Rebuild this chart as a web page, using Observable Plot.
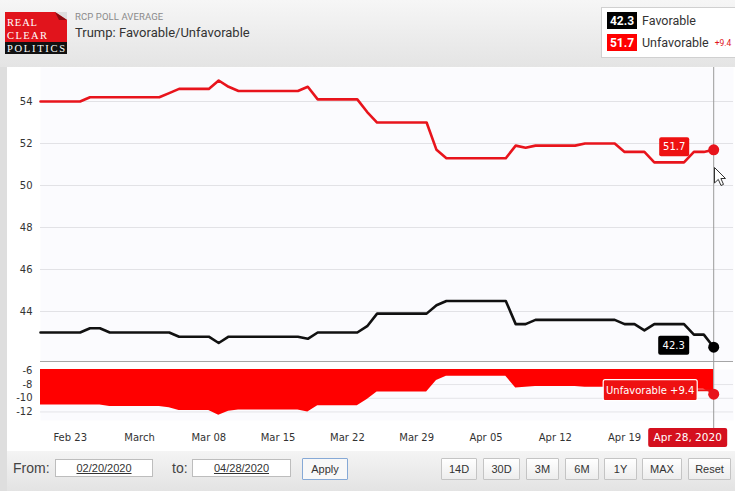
<!DOCTYPE html>
<html><head><meta charset="utf-8">
<script src="https://cdn.jsdelivr.net/npm/d3@7"></script>
<script src="https://cdn.jsdelivr.net/npm/@observablehq/plot@0.6"></script>
<style>
body{margin:0;width:735px;height:491px;overflow:hidden;background:#dedede;position:relative;font-family:Roboto,"Liberation Sans",Arial,sans-serif}
#header{position:absolute;left:0;top:0;width:735px;height:67px;background:linear-gradient(#f6f6f6,#e4e4e4)}
#sub{position:absolute;left:75px;top:11px;font-size:9.5px;color:#8a8a8a;letter-spacing:0.1px}
#title{position:absolute;left:75px;top:25px;font-size:13px;color:#333}
#legend{position:absolute;left:601px;top:7px;width:134px;height:51px;background:#fff;border:1px solid #d0d0d0;border-right:none;box-sizing:border-box}
.lrow{position:absolute;left:5px;height:17px;display:flex;align-items:center}
.lval{width:30px;height:17px;color:#fff;font-size:12px;font-weight:bold;display:flex;align-items:center;justify-content:center}
.lname{font-size:12.5px;color:#333;margin-left:5px}
#panel{position:absolute;left:7px;top:67px;width:728px;height:384px;background:#fff}
#bar{position:absolute;left:7px;top:451px;width:728px;height:40px;background:linear-gradient(#f4f4f4,#e3e3e3);font-family:"Liberation Sans",Arial,sans-serif}
.lab{position:absolute;top:9px;font-size:14px;color:#444}
.inp{position:absolute;top:8px;height:18px;background:#fff;border:1px solid #bdbdbd;box-sizing:border-box;font-size:11px;color:#333;text-decoration:underline;display:flex;align-items:center;justify-content:center}
.btn{position:absolute;top:7px;height:22px;background:linear-gradient(#fff,#ededed);border:1px solid #c4c4c4;box-sizing:border-box;font-size:11px;color:#333;display:flex;align-items:center;justify-content:center;border-radius:1px}
</style></head>
<body>
<div id="header">
  <svg style="position:absolute;left:5px;top:12px" width="62" height="42">
    <rect x="0" y="0" width="62" height="30" fill="#e1141c"/>
    <polygon points="50,0 62,0 62,8" fill="#dedede"/>
    <polygon points="50,0 62,8 54,8" fill="#8c0b10"/>
    <rect x="0" y="30" width="62" height="12" fill="#111"/>
    <text x="2" y="14" fill="#fff" font-family="Liberation Serif, DejaVu Serif, serif" font-size="10.5" textLength="30">REAL</text>
    <text x="2" y="26.5" fill="#fff" font-family="Liberation Serif, DejaVu Serif, serif" font-size="10.5" textLength="40">CLEAR</text>
    <text x="2" y="40" fill="#fff" font-family="Liberation Serif, DejaVu Serif, serif" font-size="10.5" textLength="58">POLITICS</text>
  </svg>
  <div id="sub">RCP POLL AVERAGE</div>
  <div id="title">Trump: Favorable/Unfavorable</div>
  <div id="legend">
    <div class="lrow" style="top:4px"><div class="lval" style="background:#000" id="lfav"></div><div class="lname">Favorable</div></div>
    <div class="lrow" style="top:26px"><div class="lval" style="background:#f00" id="lunf"></div><div class="lname">Unfavorable</div><div id="lspread" style="font-size:8.5px;color:#e0161e;margin-left:6px"></div></div>
  </div>
</div>
<div id="panel"></div>
<svg style="position:absolute;left:714px;top:167px" width="14" height="22">
  <polygon points="0.5,0.5 0.5,16 4.3,12.4 7,18.5 9.5,17.4 6.9,11.5 11.5,11.5" fill="#fff" stroke="#333" stroke-width="1"/>
</svg>
<div id="bar">
  <div class="lab" style="left:6px">From:</div>
  <div class="inp" style="left:48px;width:98px">02/20/2020</div>
  <div class="lab" style="left:165px">to:</div>
  <div class="inp" style="left:185px;width:99px">04/28/2020</div>
  <div class="btn" style="left:295px;width:46px;border-color:#86a9d6;background:#f8f8f8">Apply</div>
  <div class="btn" style="left:434px;width:36px">14D</div>
  <div class="btn" style="left:476px;width:37px">30D</div>
  <div class="btn" style="left:519px;width:33px">3M</div>
  <div class="btn" style="left:558px;width:34px">6M</div>
  <div class="btn" style="left:597px;width:33px">1Y</div>
  <div class="btn" style="left:635px;width:40px">MAX</div>
  <div class="btn" style="left:681px;width:43px">Reset</div>
</div>
<script>
// ---- data (daily RCP averages, Feb 20 – Apr 28, 2020) ----
const startDate = "2020-02-20";
const endDate = "2020-04-28";
const favorable = [
  43.0,43.0,43.0,43.0,43.0, 43.2,43.2,
  43.0,43.0,43.0,43.0,43.0,43.0,43.0,
  42.8,42.8,42.8,42.8, 42.5,
  42.8,42.8,42.8,42.8,42.8,42.8,42.8,42.8, 42.7,
  43.0,43.0,43.0,43.0,43.0, 43.3,
  43.9,43.9,43.9,43.9,43.9,43.9, 44.3,
  44.5,44.5,44.5,44.5,44.5,44.5,44.5,
  43.4,43.4, 43.6,43.6,43.6,43.6,43.6,43.6,43.6,43.6,43.6,
  43.4,43.4, 43.1, 43.4,43.4,43.4,43.4, 42.9,42.9, 42.3
];
const unfavorable = [
  54.0,54.0,54.0,54.0,54.0,
  54.2,54.2,54.2,54.2,54.2,54.2,54.2,54.2, 54.4,
  54.6,54.6,54.6,54.6, 55.0, 54.7,
  54.5,54.5,54.5,54.5,54.5,54.5,54.5, 54.7,
  54.1,54.1,54.1,54.1,54.1, 53.5,
  53.0,53.0,53.0,53.0,53.0,53.0, 51.7,
  51.3,51.3,51.3,51.3,51.3,51.3,51.3,
  51.9, 51.8, 51.9,51.9,51.9,51.9,51.9,
  52.0,52.0,52.0,52.0, 51.6,51.6,51.6,
  51.1,51.1,51.1,51.1, 51.6,51.6, 51.7
];
const xTicks = ["2020-02-23","2020-03-01","2020-03-08","2020-03-15","2020-03-22","2020-03-29","2020-04-05","2020-04-12","2020-04-19"];
const xTickLabels = ["Feb 23","March","Mar 08","Mar 15","Mar 22","Mar 29","Apr 05","Apr 12","Apr 19"];
const mainTicks = [44,46,48,50,52,54];
const spreadTicks = [-6,-8,-10,-12];
const xDomainEnd = "2020-04-30";
const mainDomain = [41.62, 55.62];
const spreadDomain = [-13.25, -5.8];
const dateLabel = "Apr 28, 2020";

// ---- build tables ----
const dates = d3.utcDays(new Date(startDate), d3.utcDay.offset(new Date(endDate), 1));
const favData = dates.map((d,i)=>({date:d, value:favorable[i]}));
const unfData = dates.map((d,i)=>({date:d, value:unfavorable[i]}));
const sprData = dates.map((d,i)=>({date:d, value:+(favorable[i]-unfavorable[i]).toFixed(1)}));
const lastF = favData[favData.length-1], lastU = unfData[unfData.length-1], lastS = sprData[sprData.length-1];
const lastDate = lastF.date;
const xDomain = [new Date(startDate), new Date(xDomainEnd)];
const tickMap = new Map(xTicks.map((t,i)=>[+new Date(t), xTickLabels[i]]));

document.getElementById("lfav").textContent = lastF.value.toFixed(1);
document.getElementById("lunf").textContent = lastU.value.toFixed(1);
document.getElementById("lspread").textContent = "+" + Math.abs(lastS.value).toFixed(1);

const RED = "#e8141c", AREA = "#ff0000";

function boxLabel(o) {
  return (index, scales, values, dims) => {
    const cx = scales.x(o.date);
    const cy = (o.value != null ? scales.y(o.value) : dims.height - dims.marginBottom) + o.dy;
    const right = cx + o.dx;
    const g = d3.create("svg:g");
    if (o.connector) {
      g.append("path").attr("d", `M${right},${cy} L${cx-6},${cy} Q${cx-2},${cy} ${cx},${scales.y(o.value)}`)
        .attr("stroke", o.fill).attr("stroke-width", 2).attr("fill", "none");
    }
    g.append("rect").attr("x", right - o.w).attr("y", cy - o.h/2).attr("width", o.w).attr("height", o.h)
      .attr("rx", 2).attr("fill", o.fill).attr("stroke", o.stroke || "none").attr("stroke-width", 1.2);
    g.append("text").attr("x", right - o.w/2).attr("y", cy).attr("dy", "0.36em").attr("text-anchor", "middle")
      .attr("fill", "#fff").attr("font-size", o.fs || 10).text(o.text);
    return g.node();
  };
}

const common = {
  width: 728, marginLeft: 33, marginRight: 2,
  style: {fontFamily: "DejaVu Sans, Verdana, sans-serif", fontSize: "10px", color: "#333", background: "transparent", overflow: "visible"}
};

const main = Plot.plot({
  ...common,
  height: 294, marginTop: 0, marginBottom: 0,
  x: {type: "utc", domain: xDomain, axis: null},
  y: {domain: mainDomain, ticks: mainTicks, tickSize: 0, tickPadding: 8, label: null, tickFormat: d => String(d)},
  marks: [
    Plot.frame({fill: "#fbfbfe", stroke: "none"}),
    Plot.ruleY(mainTicks, {stroke: "#e2e2e6"}),
    Plot.ruleY([mainDomain[0]], {stroke: "#a6a6a6", strokeWidth: 1.2}),
    Plot.ruleX([lastDate], {stroke: "#9a9a9a"}),
    Plot.line(unfData, {x: "date", y: "value", stroke: RED, strokeWidth: 2.6}),
    Plot.line(favData, {x: "date", y: "value", stroke: "#111", strokeWidth: 2.6}),
    boxLabel({date: lastDate, value: lastU.value, dy: -2.5, dx: -24, w: 30, h: 19, fill: "#ee1111", text: lastU.value.toFixed(1)}),
    boxLabel({date: lastDate, value: lastF.value, dy: -1.5, dx: -24, w: 31, h: 19, fill: "#000", text: lastF.value.toFixed(1)}),
    Plot.dot([lastU], {x: "date", y: "value", r: 5.5, fill: RED}),
    Plot.dot([lastF], {x: "date", y: "value", r: 5.5, fill: "#000"})
  ]
});

const spread = Plot.plot({
  ...common,
  height: 90, marginTop: 8, marginBottom: 31,
  x: {type: "utc", domain: xDomain, ticks: xTicks.map(t => new Date(t)), tickFormat: d => tickMap.get(+d), tickSize: 0, tickPadding: 13, label: null},
  y: {domain: spreadDomain, ticks: spreadTicks, tickSize: 0, tickPadding: 8, label: null, tickFormat: d => String(d)},
  marks: [
    Plot.frame({fill: "#fbfbfe", stroke: "none"}),
    Plot.ruleY(spreadTicks.slice(1), {stroke: "#e4e4e8"}),
    Plot.areaY(sprData, {x: "date", y: "value", fill: AREA, clip: true}),
    Plot.ruleX([lastDate], {stroke: "#9a9a9a", insetTop: -8, insetBottom: -10}),
    boxLabel({date: lastDate, value: lastS.value, dy: -3.5, dx: -16, w: 94, h: 21, fill: "#ee1111", stroke: "#fff", connector: true, text: "Unfavorable +" + Math.abs(lastS.value).toFixed(1)}),
    Plot.dot([lastS], {x: "date", y: "value", r: 5.5, fill: RED}),
    boxLabel({date: lastDate, value: null, dy: 17.5, dx: 14, w: 79, h: 19, fill: "#d4101e", fs: 10.5, text: dateLabel})
  ]
});

const panel = document.getElementById("panel");
main.style.position = "absolute"; main.style.top = "0px"; main.style.left = "0px";
spread.style.position = "absolute"; spread.style.top = "294px"; spread.style.left = "0px";
panel.appendChild(main);
panel.appendChild(spread);
</script>
</body></html>
